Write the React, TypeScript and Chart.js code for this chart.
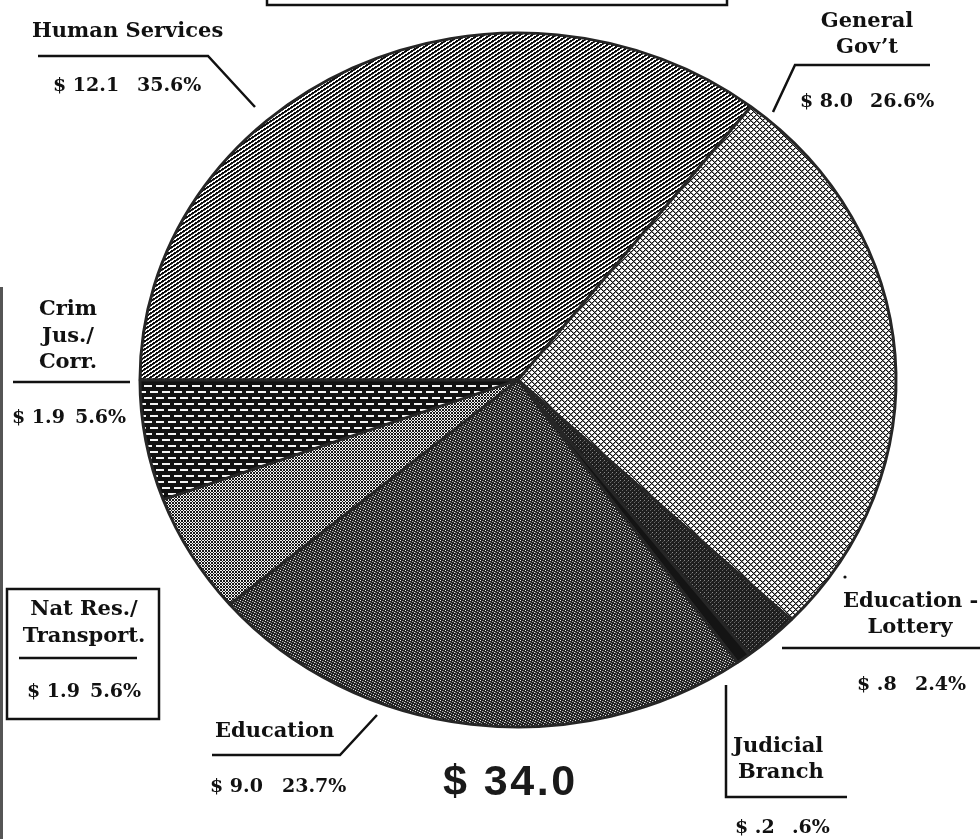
import React, { useEffect, useRef } from "react";
import { Chart, registerables } from "chart.js";

Chart.register(...registerables);

// ---- data ----
const categories = [
  "Human Services",
  "General Gov't",
  "Education - Lottery",
  "Judicial Branch",
  "Education",
  "Nat Res./Transport.",
  "Crim Jus./Corr.",
];
const sharePct = [35.6, 26.6, 2.4, 0.6, 23.7, 5.6, 5.6];
const dollarLabels = ["$ 12.1", "$ 8.0", "$ .8", "$ .2", "$ 9.0", "$ 1.9", "$ 1.9"];
const pctLabels = ["35.6%", "26.6%", "2.4%", ".6%", "23.7%", "5.6%", "5.6%"];
const totalLabel = "$ 34.0";

const SY = 347 / 378; // vertical squash of the pie (ellipse)

function tile(w: number, h: number, fn: (x: number, y: number) => string) {
  const c = document.createElement("canvas");
  c.width = w;
  c.height = h;
  const g = c.getContext("2d")!;
  for (let y = 0; y < h; y++)
    for (let x = 0; x < w; x++) {
      g.fillStyle = fn(x, y);
      g.fillRect(x, y, 1, 1);
    }
  return c;
}

function makePatterns(ctx: CanvasRenderingContext2D, cy: number) {
  const mk = (c: HTMLCanvasElement) => {
    const p = ctx.createPattern(c, "repeat")!;
    const ty = cy * (1 - 1 / SY);
    try {
      p.setTransform(new DOMMatrix([1, 0, 0, 1 / SY, 0, ty]));
    } catch (e) {}
    return p;
  };
  const human = tile(6, 4, (x, y) => {
    const v = (2 * x + 3 * y) % 12;
    return v < 6 ? "#0d0d0d" : v === 6 ? "#666" : "#fff";
  });
  const general = tile(6, 6, (x, y) => {
    const a = (x + y) % 6;
    const b = (x - y + 12) % 6;
    if (a === 0 || b === 0) return "#111";
    if (a === 1 || b === 1) return "#8a8a8a";
    return "#fff";
  });
  const lotSpecks: Record<string, string> = { "0,0": "#888", "2,2": "#666", "3,1": "#444" };
  const lottery = tile(4, 4, (x, y) => lotSpecks[x + "," + y] || "#1e1e1e");
  const judicial = tile(2, 2, () => "#141414");
  const eduSpecks: Record<string, string> = {
    "0,0": "#f0f0f0",
    "2,1": "#b0b0b0",
    "4,2": "#e0e0e0",
    "1,3": "#909090",
    "3,4": "#d0d0d0",
    "3,1": "#555",
    "0,2": "#666",
  };
  const education = tile(5, 5, (x, y) => eduSpecks[x + "," + y] || "#222");
  const natres = tile(3, 3, (x, y) =>
    (x + y) % 3 === 0 || (x - y + 3) % 3 === 0 ? "#1a1a1a" : "#f4f4f4"
  );
  const crim = tile(12, 12, (x, y) => {
    if ((y === 1 || y === 2) && x <= 7) return "#f4f4f4";
    if ((y === 7 || y === 8) && (x >= 6 || x <= 1)) return "#f4f4f4";
    return "#111";
  });
  return [human, general, lottery, judicial, education, natres, crim].map(mk);
}

const ellipsePlugin = {
  id: "ellipse",
  beforeDatasetsDraw(chart: any) {
    const { ctx, chartArea } = chart;
    const cx = (chartArea.left + chartArea.right) / 2;
    const cy = (chartArea.top + chartArea.bottom) / 2;
    ctx.save();
    ctx.imageSmoothingEnabled = false;
    ctx.translate(cx, cy);
    ctx.scale(1, SY);
    ctx.translate(-cx, -cy);
  },
  afterDatasetsDraw(chart: any) {
    chart.ctx.restore();
  },
};

const serif = "'DejaVu Serif', 'Liberation Serif', serif";

export default function App() {
  const ref = useRef<HTMLCanvasElement>(null);

  useEffect(() => {
    const canvas = ref.current!;
    const ctx = canvas.getContext("2d")!;
    const cy = 380;
    const chart = new Chart(canvas, {
      type: "pie",
      data: {
        labels: categories,
        datasets: [
          {
            data: sharePct,
            backgroundColor: makePatterns(ctx, cy) as any,
            borderColor: "#262626",
            borderWidth: 3,
            clip: false as any,
          },
        ],
      },
      options: {
        animation: false,
        responsive: false,
        maintainAspectRatio: false,
        rotation: -90,
        radius: 378,
        events: [],
        layout: { padding: { left: 56, right: 0, top: 0, bottom: 79 } },
        plugins: { legend: { display: false }, tooltip: { enabled: false } },
      } as any,
      plugins: [ellipsePlugin],
    });
    return () => chart.destroy();
  }, []);

  const txt = (
    x: number,
    y: number,
    s: string,
    anchor: "start" | "middle" | "end" = "start",
    size = 21
  ) => (
    <text
      x={x}
      y={y}
      textAnchor={anchor}
      fontFamily={serif}
      fontWeight={700}
      fontSize={size}
      fill="#111"
    >
      {s}
    </text>
  );
  const val = (x: number, y: number, s: string) => txt(x, y, s, "start", 19);

  return (
    <div style={{ position: "absolute", left: 0, top: 0, width: 980, height: 839, background: "#fff", overflow: "hidden" }}>
      <canvas
        ref={ref}
        width={980}
        height={839}
        style={{ position: "absolute", left: 0, top: 0, width: 980, height: 839, display: "block" }}
      />
      <svg
        width={980}
        height={839}
        style={{ position: "absolute", left: 0, top: 0, pointerEvents: "none" }}
      >
        {/* frame pieces */}
        <rect x={267} y={-20} width={460} height={25} fill="none" stroke="#111" strokeWidth={2.5} />
        <rect x={0} y={287} width={3} height={560} fill="#555" />

        {/* Human Services */}
        {txt(32, 37, "Human Services")}
        <polyline points="38,56 208,56 255,107" fill="none" stroke="#111" strokeWidth={2.5} />
        {val(53, 91, dollarLabels[0])}
        {val(137, 91, pctLabels[0])}

        {/* General Gov't */}
        {txt(867, 27, "General", "middle")}
        {txt(867, 53, "Gov’t", "middle")}
        <polyline points="773,112 795,65 930,65" fill="none" stroke="#111" strokeWidth={2.5} />
        {val(800, 107, dollarLabels[1])}
        {val(870, 107, pctLabels[1])}

        {/* Education - Lottery */}
        {txt(843, 607, "Education -")}
        {txt(910, 633, "Lottery", "middle")}
        <line x1={782} y1={648} x2={980} y2={648} stroke="#111" strokeWidth={2.5} />
        {val(857, 690, dollarLabels[2])}
        {val(915, 690, pctLabels[2])}
        <circle cx={845} cy={577} r={1.6} fill="#111" />

        {/* Judicial Branch */}
        <polyline points="726,685 726,797 847,797" fill="none" stroke="#111" strokeWidth={2.5} />
        {txt(733, 752, "Judicial")}
        {txt(738, 778, "Branch")}
        {val(735, 833, dollarLabels[3])}
        {val(792, 833, pctLabels[3])}

        {/* Education */}
        {txt(215, 737, "Education")}
        <polyline points="212,755 340,755 377,715" fill="none" stroke="#111" strokeWidth={2.5} />
        {val(210, 792, dollarLabels[4])}
        {val(282, 792, pctLabels[4])}

        {/* Nat Res / Transport */}
        <rect x={7} y={589} width={152} height={130} fill="none" stroke="#111" strokeWidth={2.5} />
        {txt(84, 615, "Nat Res./", "middle")}
        {txt(84, 642, "Transport.", "middle")}
        <line x1={19} y1={658} x2={137} y2={658} stroke="#111" strokeWidth={2.5} />
        {val(27, 697, dollarLabels[5])}
        {val(90, 697, pctLabels[5])}

        {/* Crim Jus / Corr */}
        {txt(68, 315, "Crim", "middle")}
        {txt(68, 342, "Jus./", "middle")}
        {txt(68, 368, "Corr.", "middle")}
        <line x1={13} y1={382} x2={130} y2={382} stroke="#111" strokeWidth={2.5} />
        {val(12, 423, dollarLabels[6])}
        {val(75, 423, pctLabels[6])}

        {/* total */}
        <text
          x={443}
          y={795}
          fontFamily="'Liberation Sans', Arial, sans-serif"
          fontWeight={700}
          fontSize={43}
          letterSpacing={2.5}
          fill="#1a1a1a"
        >
          {totalLabel}
        </text>
      </svg>
    </div>
  );
}
